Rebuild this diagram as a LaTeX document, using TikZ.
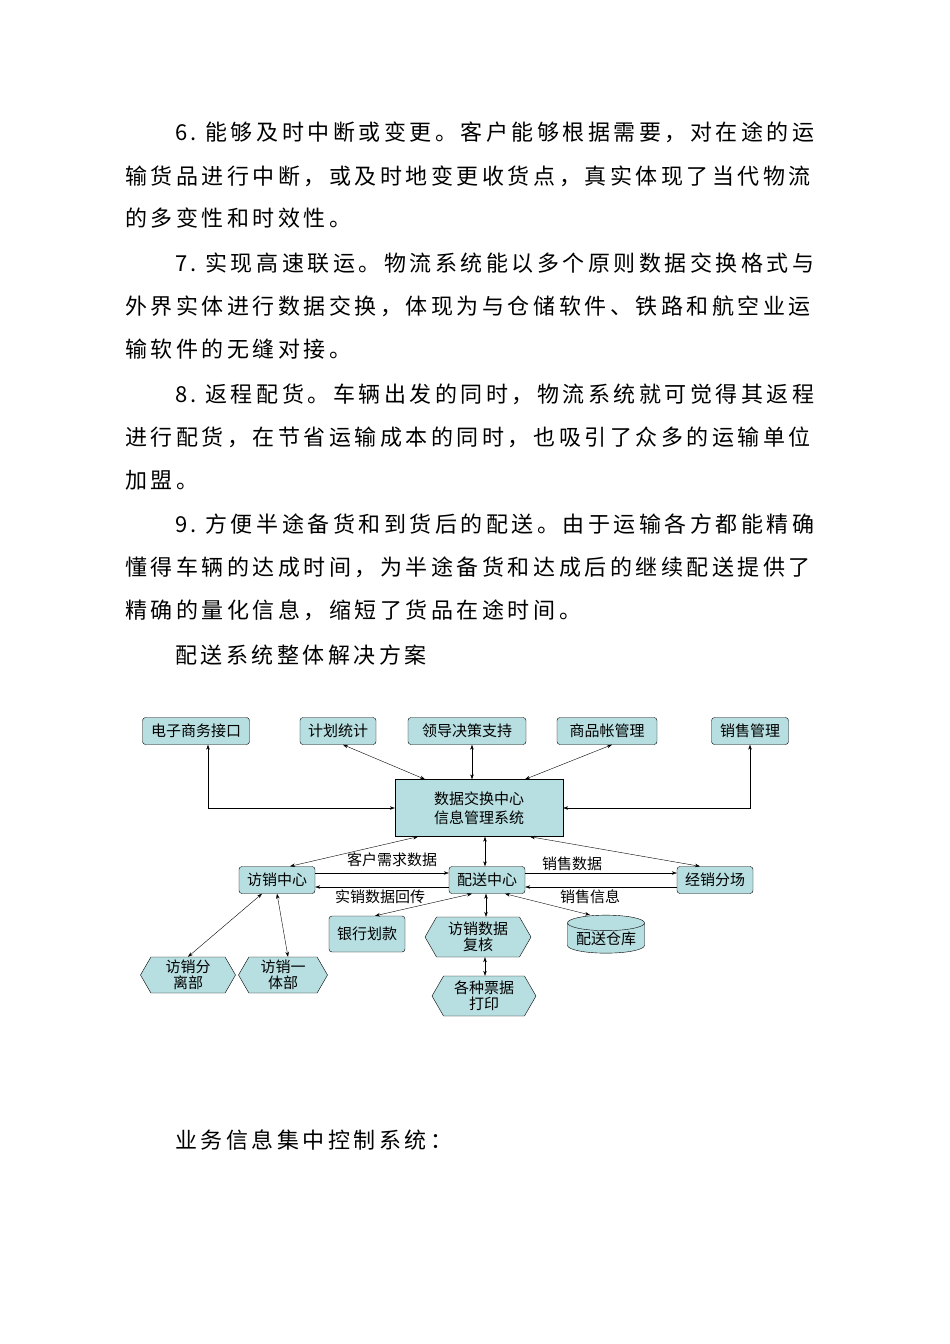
\documentclass[tikz,border=0pt]{standalone}
\usepackage{fontspec}
\setmainfont{Liberation Serif}
\newfontfamily\cjk{Noto Sans CJK SC}
\newfontfamily\cjkbody[LetterSpace=16]{Noto Sans CJK SC}
\usetikzlibrary{shapes.geometric,shapes.symbols,arrows.meta}
\definecolor{tl}{RGB}{183,222,224}
\begin{document}
\begin{tikzpicture}[x=1pt,y=-1pt,
 body/.style={anchor=west,inner sep=0,font=\fontsize{22}{22}\selectfont\cjkbody},
 bx/.style={draw,fill=tl,rounded corners=3pt,inner sep=1pt,font=\fontsize{15}{16}\selectfont\cjk,minimum height=27pt},
 hx/.style={draw,fill=tl,shape=signal,signal to=east and west,signal pointer angle=120,inner sep=1pt,font=\fontsize{15}{16}\selectfont\cjk,align=center},
 lb/.style={font=\fontsize{15}{15}\selectfont\cjk,inner sep=0},
 dd/.style={{Stealth[length=5pt,width=3.5pt]}-{Stealth[length=5pt,width=3.5pt]}},
 sa/.style={-{Stealth[length=5pt,width=3.5pt]}}]
\useasboundingbox (0,0) rectangle (950,1344);
\node[body] (p1) at (175,132) {6.~能够及时中断或变更。客户能够根据需要，对在途的运};
\node[body] (p2) at (125,176) {输货品进行中断，或及时地变更收货点，真实体现了当代物流};
\node[body] (p3) at (125,218) {的多变性和时效性。};
\node[body] (p4) at (175,263) {7.~实现高速联运。物流系统能以多个原则数据交换格式与};
\node[body] (p5) at (125,306) {外界实体进行数据交换，体现为与仓储软件、铁路和航空业运};
\node[body] (p6) at (125,349) {输软件的无缝对接。};
\node[body] (p7) at (175,394) {8.~返程配货。车辆出发的同时，物流系统就可觉得其返程};
\node[body] (p8) at (125,437) {进行配货，在节省运输成本的同时，也吸引了众多的运输单位};
\node[body] (p9) at (125,480) {加盟。};
\node[body] (p10) at (175,524) {9.~方便半途备货和到货后的配送。由于运输各方都能精确};
\node[body] (p11) at (125,567) {懂得车辆的达成时间，为半途备货和达成后的继续配送提供了};
\node[body] (p12) at (125,610) {精确的量化信息，缩短了货品在途时间。};
\node[body] (p13) at (175,655) {配送系统整体解决方案};
\node[body] (p14) at (175,1140) {业务信息集中控制系统：};

\node[bx,minimum width=107pt] (ec) at (196,731) {电子商务接口};
\node[bx,minimum width=76pt] (jh) at (338,731) {计划统计};
\node[bx,minimum width=118pt] (ld) at (467,731) {领导决策支持};
\node[bx,minimum width=100pt] (sp) at (607,731) {商品帐管理};
\node[bx,minimum width=77pt] (xs) at (750,731) {销售管理};
\node[draw,fill=tl,minimum width=168pt,minimum height=57pt,align=center,font=\fontsize{15}{19}\selectfont\cjk] (dc) at (479,808) {数据交换中心\\信息管理系统};
\node[bx,minimum width=76pt] (fx) at (277,880) {访销中心};
\node[bx,minimum width=76pt] (ps) at (487,880) {配送中心};
\node[bx,minimum width=76pt] (jx) at (715,880) {经销分场};
\node[bx,minimum width=76pt,minimum height=36pt] (yh) at (367,934) {银行划款};
\node[hx,minimum width=106pt,minimum height=40pt] (fh) at (478,937) {访销数据\\复核};
\node[draw,fill=tl,cylinder,shape border rotate=90,aspect=0.25,minimum width=77pt,minimum height=38pt,inner sep=1pt,font=\fontsize{15}{16}\selectfont\cjk] (ck) at (606,939) {配送仓库};
\node[hx,minimum width=95pt,minimum height=36pt] (fl) at (188,975) {访销分\\离部};
\node[hx,minimum width=89pt,minimum height=36pt] (yt) at (283,975) {访销一\\体部};
\node[hx,minimum width=104pt,minimum height=40pt] (pj) at (484,996) {各种票据\\打印};

\draw[dd] (ec.south -| 208,0) |- (dc.west);
\draw[dd] (xs.south) |- (dc.east);
\draw[dd] (jh.south -| 343,0) -- (dc.north -| 425,0);
\draw[dd] (ld.south -| 472,0) -- (dc.north -| 472,0);
\draw[dd] (sp.south -| 612,0) -- (dc.north -| 525,0);
\draw[dd] (dc.south -| 418,0) -- (fx.north -| 290,0);
\draw[dd] (dc.south -| 485,0) -- (ps.north -| 485,0);
\draw[dd] (dc.south -| 530,0) -- (jx.north -| 700,0);
\draw[sa] (fx.east |- 0,873) -- (ps.west |- 0,873);
\draw[sa] (ps.west |- 0,887) -- (fx.east |- 0,887);
\draw[sa] (ps.east |- 0,873) -- (jx.west |- 0,873);
\draw[sa] (jx.west |- 0,887) -- (ps.east |- 0,887);
\node[lb] (l1) at (392,860) {客户需求数据};
\node[lb] (l2) at (380,897) {实销数据回传};
\node[lb] (l3) at (572,864) {销售数据};
\node[lb] (l4) at (590,897) {销售信息};
\draw[dd] (fx.south -| 262,0) -- (fl.north);
\draw[dd] (fx.south -| 277,0) -- (yt.north -| 288,0);
\draw[dd] (ps.south -| 472,0) -- (yh.north -| 375,0);
\draw[dd] (ps.south -| 486,0) -- (fh.north -| 486,0);
\draw[dd] (ps.south -| 505,0) -- (ck.north -| 590,0);
\draw[dd] (fh.south -| 485,0) -- (pj.north -| 485,0);
\end{tikzpicture}
\end{document}
